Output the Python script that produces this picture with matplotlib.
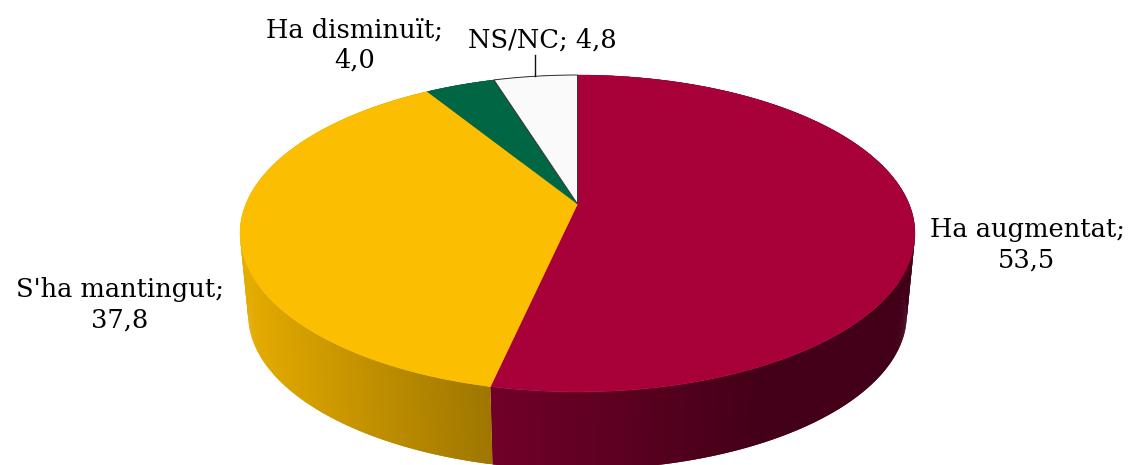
import numpy as np
import matplotlib
matplotlib.use("Agg")
import matplotlib.pyplot as plt

W, H = 1128, 465

labels = ["Ha augmentat;\n53,5", "S'ha mantingut;\n37,8", "Ha disminuït;\n4,0", "NS/NC; 4,8"]
values = [53.5, 37.8, 4.0, 4.8]
colors = ["#A80039", "#FBBE00", "#006644", "#FAFAFA"]
label_xy = [(1027, 245), (120, 305), (355, 45), (542, 40)]

# perspective of the tilted disc, in pixels
K = 0.186
CX = 577.5


def project(ang, top=True):
    # ang is clockwise from 12 o'clock
    x, y = np.sin(ang), np.cos(ang)
    d = 1 + K * y
    if top:
        return CX + 331.6 * x / d, 204 - 153 * y / d
    return CX + 323.5 * x / d, 286 - 149.5 * y / d


def wall_color(i, x):
    if i == 0:
        c = np.interp(x, [492, 620, 760, 915], [112, 92, 68, 66]), 0, np.interp(x, [492, 760], [40, 24])
    elif i == 1:
        c = np.interp(x, [240, 492], [230, 158]), np.interp(x, [240, 492], [172, 118]), 0
    else:
        c = (60, 60, 60)
    return tuple(v / 255 for v in c)


fig = plt.figure(figsize=(W / 100, H / 100), dpi=100)
ax = fig.add_axes([0, 0, 1, 1])
ax.set_xlim(0, W)
ax.set_ylim(H, 0)
ax.axis("off")

edges = np.r_[0, np.cumsum(values)] / sum(values) * 2 * np.pi

# side wall first, the top covers whatever is behind it
# each quad runs over the next one so no seams show
for i in range(len(values)):
    a = np.linspace(edges[i], edges[i + 1], max(int(values[i] * 8), 3))
    for j in range(len(a) - 1):
        a0 = a[j]
        a1 = a[min(j + 2, len(a) - 1)]
        x0, y0 = project(a0)
        x1, y1 = project(a1)
        x2, y2 = project(a1, top=False)
        x3, y3 = project(a0, top=False)
        c = wall_color(i, (x0 + project(a[j + 1])[0]) / 2)
        ax.fill([x0, x1, x2, x3], [y0, y1, y2, y3], facecolor=c, edgecolor="none", lw=0, zorder=1)

# top face
for i in range(len(values)):
    a = np.linspace(edges[i], edges[i + 1], 200)
    x, y = project(a)
    px = np.r_[CX, x]
    py = np.r_[204, y]
    if i == 3:
        ax.fill(px, py, facecolor=colors[i], edgecolor="#333333", lw=0.7, zorder=3)
    else:
        ax.fill(px, py, color=colors[i], lw=0.3, zorder=2)

# leader line for NS/NC
ax.plot([535, 535], [55, 76], color="#111111", lw=1.0, zorder=4)

for (tx, ty), s in zip(label_xy, labels):
    ax.text(tx, ty, s, ha="center", va="center", family="DejaVu Serif",
            fontsize=18.5, color="black", linespacing=1.27, zorder=5)

fig.savefig("out.png", dpi=100)
